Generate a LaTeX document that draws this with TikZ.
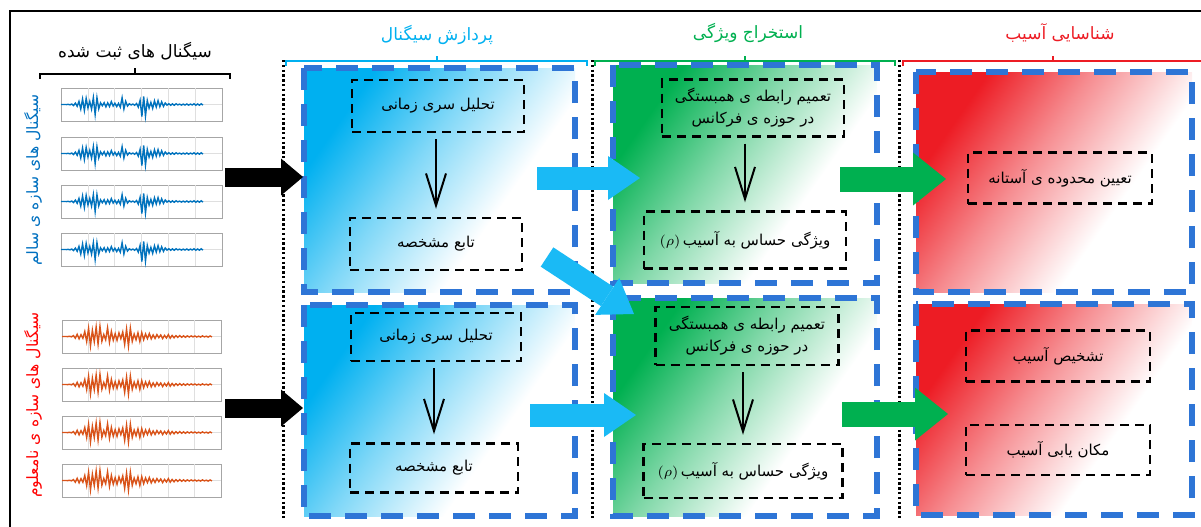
\documentclass[tikz,border=0pt]{standalone}
\usepackage{fontspec}
\usetikzlibrary{arrows.meta, positioning}
\TeXXeTstate=1
\newfontfamily\farsifont[Script=Arabic]{DejaVu Sans}
\newcommand{\fa}[1]{{\farsifont\beginR #1\endR}}

\definecolor{phaseblue}{RGB}{46,117,214}
\definecolor{proccyan}{RGB}{0,176,240}
\definecolor{featgreen}{RGB}{0,176,80}
\definecolor{dmgred}{RGB}{237,28,36}
\definecolor{arrcyan}{RGB}{26,186,245}
\definecolor{healthyblue}{RGB}{0,112,192}
\definecolor{sigblue}{RGB}{0,114,189}
\definecolor{sigorange}{RGB}{217,83,25}

% colour fades of the three stages
\pgfdeclarehorizontalshading{procfade}{100bp}{color(0bp)=(proccyan); color(27bp)=(proccyan); color(44bp)=(proccyan!50!white); color(63bp)=(white); color(100bp)=(white)}
\pgfdeclarehorizontalshading{featfade}{100bp}{color(0bp)=(featgreen); color(27bp)=(featgreen); color(44bp)=(featgreen!50!white); color(63bp)=(white); color(100bp)=(white)}
\pgfdeclarehorizontalshading{dmgfade}{100bp}{color(0bp)=(dmgred); color(27bp)=(dmgred); color(44bp)=(dmgred!50!white); color(63bp)=(white); color(100bp)=(white)}

\tikzset{
phase/.style={draw=phaseblue, line width=2.6pt, dash pattern=on 11pt off 7pt}, % big blue frames
stepbox/.style={draw, line width=1.2pt, dash pattern=on 4.5pt off 3pt, minimum height=26pt, inner sep=2pt, align=center, font=\fontsize{7.5}{11}\selectfont},
flow/.style={line width=1pt, -{Straight Barb[length=16pt, width=10pt]}, shorten <=3pt, shorten >=4pt},
divider/.style={line width=1.5pt, dash pattern=on 1.2pt off 1.2pt},
bracket/.style={line width=1pt},
heading/.style={font=\fontsize{8.5}{10}\selectfont},
sidelabel/.style={rotate=90, font=\fontsize{7.8}{10}\selectfont},
plotframe/.style={draw=gray!70, line width=0.4pt},
plotgrid/.style={draw=gray!25, line width=0.3pt},
blackarrow/.style={line width=9.5pt, -{Triangle[length=11pt, width=18.5pt, line width=0pt]}},
cyanarrow/.style={arrcyan, line width=11.5pt, -{Triangle[length=16pt, width=22pt, line width=0pt]}},
greenarrow/.style={featgreen, line width=12.5pt, -{Triangle[length=16.5pt, width=26.5pt, line width=0pt]}},
declare function={
  bump(\x,\c,\w)=exp(-((\x-\c)/\w)*((\x-\c)/\w));
  envb(\x)=0.05*(\x>0.08)+0.4*bump(\x,0.18,0.07)+0.55*bump(\x,0.25,0.02)+0.15*bump(\x,0.35,0.06)+0.5*bump(\x,0.44,0.02)+0.95*bump(\x,0.58,0.025)+0.25*bump(\x,0.66,0.06);
  envo(\x)=0.04*(\x>0.07)+0.12*bump(\x,0.12,0.05)+0.8*bump(\x,0.18,0.025)+0.85*bump(\x,0.24,0.025)+0.6*bump(\x,0.31,0.02)+0.3*bump(\x,0.36,0.03)+0.95*bump(\x,0.44,0.03)+0.3*bump(\x,0.53,0.05)+0.1*bump(\x,0.66,0.12);
},
}

\begin{document}
\begin{tikzpicture}[x=0.5pt, y=-0.5pt]
\useasboundingbox (0,0) rectangle (1201,526);
\clip (0,0) rectangle (1201,526);
\draw[line width=1pt] (10,11) rectangle (1215,540);

% stage backgrounds
\shade[shading=procfade, shading angle=-35] (304,68) rectangle (575,292);
\shade[shading=procfade, shading angle=-35] (304,305) rectangle (575,516);
\shade[shading=featfade, shading angle=-35] (613,65) rectangle (877,283);
\shade[shading=featfade, shading angle=-35] (613,298) rectangle (877,516);
\shade[shading=dmgfade, shading angle=-35] (916,72) rectangle (1192,292);
\shade[shading=dmgfade, shading angle=-35] (916,304) rectangle (1192,515);
\draw[phase] (304,68) rectangle (575,292);
\draw[phase] (304,305) rectangle (575,516);
\draw[phase] (613,65) rectangle (877,283);
\draw[phase] (613,298) rectangle (877,516);
\draw[phase] (916,72) rectangle (1192,292);
\draw[phase] (916,304) rectangle (1192,515);

% dotted separators
\foreach \xd in {283,592,899}
  \draw[divider] (\xd,60) -- (\xd,518);

% brackets and headings
\draw[bracket] (40,79) |- (135,74) -- (135,68) (135,74) -| (230,79);
\draw[bracket, proccyan] (286,66) |- (437,61) -- (437,56) (437,61) -| (587,66);
\draw[bracket, featgreen] (595,66) |- (745,61) -- (745,56) (745,61) -| (895,66);
\draw[bracket, dmgred] (903,66) |- (1053,61) -- (1053,56) (1053,61) -| (1215,66);
\node[heading] (rechdr) at (135,51) {\fa{سیگنال های ثبت شده}};
\node[heading, text=proccyan] (prochdr) at (437,35) {\fa{پردازش سیگنال}};
\node[heading, text=featgreen] (feathdr) at (748,33) {\fa{استخراج ویژگی}};
\node[heading, text=dmgred] (dmghdr) at (1060,33) {\fa{شناسایی آسیب}};
\node[sidelabel, text=healthyblue] (healthylbl) at (33,180) {\fa{سیگنال های سازه ی سالم}};
\node[sidelabel, text=red] (unknownlbl) at (33,405) {\fa{سیگنال های سازه ی نامعلوم}};

% recorded signals
\foreach \yo in {88,137,185,233}{
  \draw[plotframe] (61,\yo) rectangle ++(161,33);
  \foreach \g in {1,...,5} \draw[plotgrid] ({61+26.8*\g},\yo) -- ++(0,33);
  \draw[plotgrid] (61,\yo+16.5) -- ++(161,0);
  \pgfmathsetseed{17}
  \draw[sigblue, line width=0.7pt] plot[samples at={0,...,79}] ({61+142*\x/79}, {\yo+16.5-15*envb(\x/79)*(0.5+0.5*rnd)*(1-2*mod(\x,2))});
}
\foreach \yo in {320,368,416,464}{
  \draw[plotframe] (62,\yo) rectangle ++(159,33);
  \foreach \g in {1,...,5} \draw[plotgrid] ({62+26.5*\g},\yo) -- ++(0,33);
  \draw[plotgrid] (62,\yo+16.5) -- ++(159,0);
  \pgfmathsetseed{29}
  \draw[sigorange, line width=0.7pt] plot[samples at={0,...,79}] ({62+150*\x/79}, {\yo+16.5-15*envo(\x/79)*(0.5+0.5*rnd)*(1-2*mod(\x,2))});
}

% signal processing
\node[stepbox, minimum width=86pt] (tsa1) at (438,106) {\fa{تحلیل سری زمانی}};
\node[stepbox, minimum width=86pt] (cf1) at (436,244) {\fa{تابع مشخصه}};
\node[stepbox, minimum width=85pt, minimum height=24pt] (tsa2) at (436,337) {\fa{تحلیل سری زمانی}};
\node[stepbox, minimum width=84pt, minimum height=24.5pt] (cf2) at (434,468) {\fa{تابع مشخصه}};
\draw[flow] (cf1.north |- tsa1.south) -- (cf1.north);
\draw[flow] (cf2.north |- tsa2.south) -- (cf2.north);

% feature extraction
\node[stepbox, minimum width=91pt, minimum height=28.5pt] (gen1) at (753,108) {\fa{تعمیم رابطه ی همبستگی}\\\fa{در حوزه ی فرکانس}};
\node[stepbox, minimum width=101pt, minimum height=28.5pt] (dsf1) at (745,240) {$(\rho)$\,\fa{ویژگی حساس به آسیب}};
\node[stepbox, minimum width=91.5pt, minimum height=29pt] (gen2) at (747,336) {\fa{تعمیم رابطه ی همبستگی}\\\fa{در حوزه ی فرکانس}};
\node[stepbox, minimum width=99.5pt, minimum height=27pt] (dsf2) at (743,471) {$(\rho)$\,\fa{ویژگی حساس به آسیب}};
\draw[flow] (dsf1.north |- gen1.south) -- (dsf1.north);
\draw[flow] (dsf2.north |- gen2.south) -- (dsf2.north);

% damage identification
\node[stepbox, minimum width=92pt, minimum height=25.5pt] (thr) at (1060,178) {\fa{تعیین محدوده ی آستانه}};
\node[stepbox, minimum width=92pt, minimum height=25.5pt] (det) at (1058,356) {\fa{تشخیص آسیب}};
\node[stepbox, minimum width=92pt, minimum height=25pt] (loc) at (1058,450) {\fa{مکان یابی آسیب}};

% block arrows between stages
\coordinate (bk1s) at (225,177); \coordinate (bk1e) at (303,177);
\coordinate (bk2s) at (225,408); \coordinate (bk2e) at (303,408);
\coordinate (cy1s) at (537,178); \coordinate (cy1e) at (640,178);
\coordinate (cy2s) at (547,257); \coordinate (cy2e) at (634,314);
\coordinate (cy3s) at (530,415); \coordinate (cy3e) at (636,415);
\coordinate (gr1s) at (840,179); \coordinate (gr1e) at (946,179);
\coordinate (gr2s) at (842,414); \coordinate (gr2e) at (948,414);
\draw[blackarrow] (bk1s) -- (bk1e);
\draw[blackarrow] (bk2s) -- (bk2e);
\draw[cyanarrow] (cy1s) -- (cy1e);
\draw[cyanarrow] (cy2s) -- (cy2e);
\draw[cyanarrow] (cy3s) -- (cy3e);
\draw[greenarrow] (gr1s) -- (gr1e);
\draw[greenarrow] (gr2s) -- (gr2e);
\end{tikzpicture}
\end{document}
